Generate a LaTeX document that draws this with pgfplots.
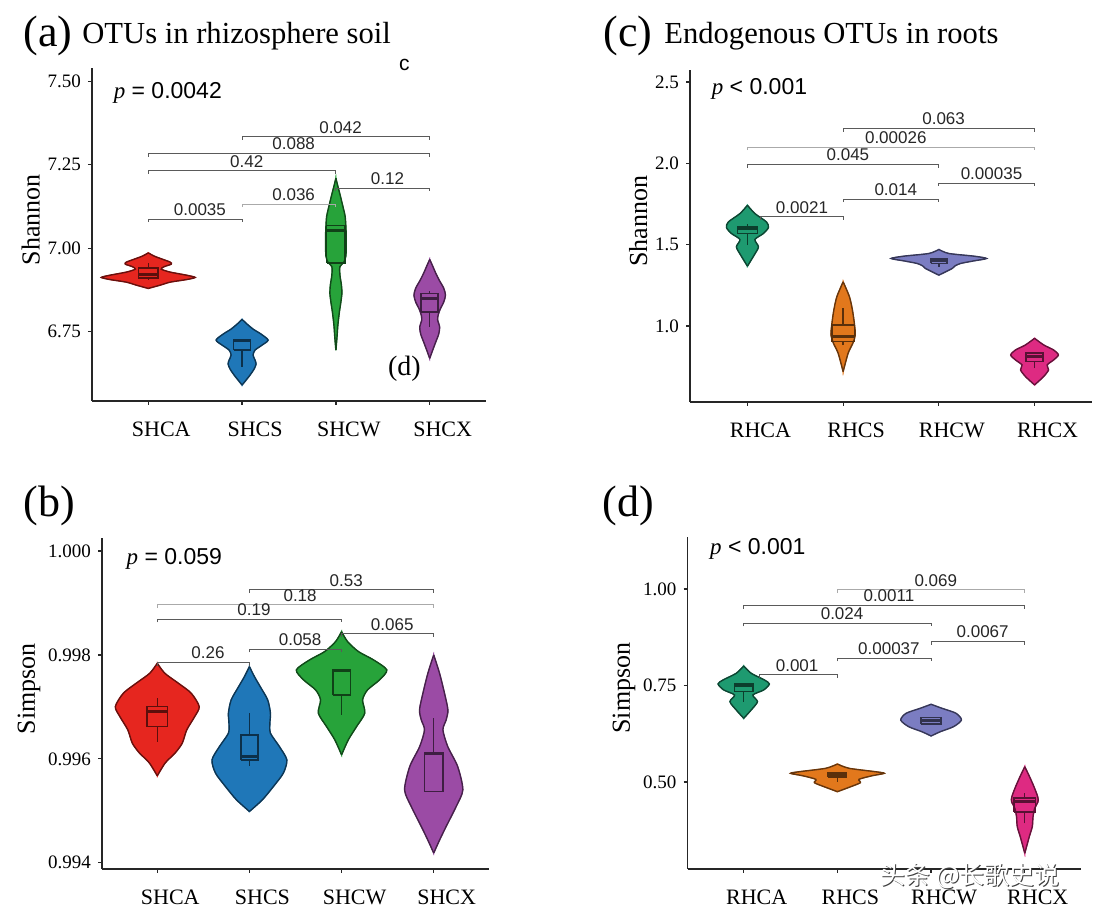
\documentclass[border=0pt]{standalone}
\usepackage{fontspec}
\setmainfont{Liberation Serif}
\setsansfont{Liberation Sans}
\newfontfamily\cjk{Noto Sans CJK SC}
\usepackage{pgfplots}
\usepackage{pgfplotstable}
\pgfplotsset{compat=1.18}

\definecolor{cRed}{HTML}{E6261F}
\definecolor{cBlue}{HTML}{1F77B8}
\definecolor{cGreen}{HTML}{27A33A}
\definecolor{cPurple}{HTML}{9B4BA5}
\definecolor{cTeal}{HTML}{1E9A70}
\definecolor{cOrange}{HTML}{E2781C}
\definecolor{cLav}{HTML}{7B7DC2}
\definecolor{cPink}{HTML}{DE2A82}
\definecolor{brk}{HTML}{5A5A5A}
\definecolor{brkl}{HTML}{AAAAAA}

% ---------- violin outlines: y, half width (x units) ----------
\pgfplotstableread{
y h
6.9859 0
6.9760 0.064
6.9670 0.149
6.9580 0.234
6.9520 0.245
6.9445 0.170
6.9370 0.138
6.9281 0.234
6.9191 0.404
6.9122 0.500
6.9056 0.404
6.8981 0.234
6.8891 0.128
6.8792 0
}\VaA
\pgfplotstableread{
y h
6.7863 0
6.7722 0.053
6.7572 0.117
6.7422 0.202
6.7242 0.277
6.7092 0.213
6.6942 0.138
6.6792 0.117
6.6643 0.138
6.6523 0.149
6.6373 0.128
6.6193 0.085
6.6043 0.043
6.5893 0
}\VaB
\pgfplotstableread{
y h
7.2098 0
7.1859 0.021
7.1559 0.048
7.1259 0.074
7.0959 0.098
7.0659 0.106
7.0360 0.110
7.0060 0.110
6.9760 0.106
6.9580 0.085
6.9445 0.043
6.9191 0.043
6.8891 0.059
6.8651 0.064
6.8381 0.053
6.8082 0.037
6.7692 0.021
6.7302 0.011
6.6942 0
}\VaC
\pgfplotstableread{
y h
6.9661 0
6.9460 0.032
6.9251 0.064
6.9041 0.101
6.8801 0.149
6.8591 0.168
6.8381 0.149
6.8172 0.112
6.7992 0.090
6.7842 0.085
6.7632 0.106
6.7422 0.096
6.7182 0.064
6.6942 0.032
6.6694 0
}\VaD
\pgfplotstableread{
y h
0.997840 0
0.997648 0.081
0.997456 0.228
0.997263 0.368
0.997006 0.455
0.996813 0.406
0.996558 0.320
0.996302 0.271
0.996115 0.195
0.995923 0.087
0.995673 0
}\VbA
\pgfplotstableread{
y h
0.997775 0
0.997583 0.054
0.997390 0.117
0.997135 0.198
0.996879 0.228
0.996687 0.222
0.996494 0.228
0.996237 0.325
0.995981 0.406
0.995725 0.368
0.995467 0.260
0.995212 0.141
0.994987 0
}\VbB
\pgfplotstableread{
y h
0.998448 0
0.998256 0.065
0.998063 0.184
0.997904 0.347
0.997711 0.491
0.997519 0.412
0.997327 0.282
0.997135 0.228
0.996879 0.252
0.996621 0.163
0.996365 0.073
0.996077 0
}\VbC
\pgfplotstableread{
y h
0.998000 0
0.997648 0.063
0.997263 0.117
0.996942 0.154
0.996750 0.135
0.996558 0.100
0.996237 0.152
0.995852 0.260
0.995404 0.316
0.995083 0.244
0.994698 0.135
0.994442 0.065
0.994187 0
}\VbD
\pgfplotstableread{
y h
1.7423 0
1.6914 0.078
1.6399 0.199
1.6055 0.219
1.5687 0.167
1.5319 0.078
1.4865 0.115
1.4356 0.070
1.3681 0
}\VcA
\pgfplotstableread{
y h
1.2718 0
1.1798 0.066
1.0982 0.097
1.0166 0.117
0.9448 0.127
0.8939 0.101
0.8325 0.052
0.7196 0
}\VcB
\pgfplotstableread{
y h
1.4706 0
1.4460 0.104
1.4295 0.366
1.4153 0.498
1.4006 0.366
1.3847 0.227
1.3700 0.170
1.3540 0.140
1.3129 0
}\VcC
\pgfplotstableread{
y h
0.9245 0
0.8834 0.096
0.8528 0.199
0.8221 0.249
0.7914 0.199
0.7607 0.131
0.7301 0.146
0.6889 0.094
0.6380 0
}\VcD
\pgfplotstableread{
y h
0.8006 0
0.7816 0.080
0.7643 0.221
0.7539 0.274
0.7384 0.213
0.7254 0.098
0.7081 0.147
0.6866 0.080
0.6650 0
}\VdA
\pgfplotstableread{
y h
0.5466 0
0.5355 0.124
0.5267 0.404
0.5225 0.500
0.5163 0.372
0.5070 0.231
0.4982 0.245
0.4878 0.142
0.4749 0
}\VdB
\pgfplotstableread{
y h
0.7013 0
0.6910 0.115
0.6780 0.266
0.6606 0.324
0.6433 0.239
0.6303 0.098
0.6192 0
}\VdC
\pgfplotstableread{
y h
0.5396 0
0.5137 0.051
0.4878 0.098
0.4619 0.138
0.4490 0.141
0.4319 0.106
0.4101 0.088
0.3842 0.080
0.3583 0.048
0.3153 0
}\VdD

% ---------- helpers ----------
\newcommand{\violin}[3]{%
 \addplot[fill=#3, draw=#3, line width=0.5pt, smooth, tension=0.45, forget plot] table[x expr={#2-\thisrow{h}}, y=y] {#1} -- cycle;
 \addplot[fill=#3, draw=#3, line width=0.5pt, smooth, tension=0.45, forget plot] table[x expr={#2+\thisrow{h}}, y=y] {#1} -- cycle;
 \addplot[draw=#3!45!black, line width=0.7pt, smooth, tension=0.45, forget plot] table[x expr={#2-\thisrow{h}}, y=y] {#1};
 \addplot[draw=#3!45!black, line width=0.7pt, smooth, tension=0.45, forget plot] table[x expr={#2+\thisrow{h}}, y=y] {#1};
}
% box: xl, xc, xr, lower whisker, q1, median, q3, upper whisker, colour
\newcommand{\bx}[9]{%
 \addplot[forget plot, draw=#9!40!black, line width=0.7pt] coordinates {(#2,#4)(#2,#5)};
 \addplot[forget plot, draw=#9!40!black, line width=0.7pt] coordinates {(#2,#7)(#2,#8)};
 \addplot[forget plot, draw=#9!40!black, line width=0.8pt] coordinates {(#1,#5)(#3,#5)(#3,#7)(#1,#7)(#1,#5)};
 \addplot[forget plot, draw=#9!40!black, line width=1.5pt] coordinates {(#1,#6)(#3,#6)};
}
\newcommand{\brk}[7]{%
 \addplot[forget plot, draw=#7, line width=0.5pt] coordinates {(#1,#3)(#1,#4)(#2,#4)(#2,#3)};
 \node[anchor=south, inner sep=1.6pt, font=\sffamily\fontsize{8.5}{8.5}\selectfont, text=black!85] at (axis cs:#5,#4) {#6};
}

\pgfplotsset{
 vio/.style={
  scale only axis, axis lines=left,
  axis line style={-, line width=0.7pt, black!85},
  tick align=outside, major tick length=2pt,
  tick style={black!85, line width=0.6pt},
  xmin=0.4, xmax=4.6, xtick={1,2,3,4},
  clip=false,
  /pgf/number format/assume math mode=true,
  yticklabel style={font=\fontsize{9.5}{9.5}\selectfont, /pgf/number format/fixed, /pgf/number format/zerofill},
  xticklabel style={font=\fontsize{11}{11}\selectfont, xshift=6.5pt, yshift=-5pt},
  ylabel style={font=\fontsize{13}{13}\selectfont, at={(ticklabel cs:0.545,-3pt)}},
  scaled y ticks=false,
 },
}

\begin{document}
\begin{tikzpicture}
\useasboundingbox (0,0) rectangle (550pt,461pt);

% ================= (a) =================
\begin{axis}[vio, at={(46pt,260.5pt)}, anchor=south west, width=197pt, height=166.5pt,
  ymin=6.5415, ymax=7.5405, ytick={6.75,7,7.25,7.5},
  yticklabel style={/pgf/number format/precision=2},
  xticklabels={SHCA,SHCS,SHCW,SHCX}, ylabel={Shannon}]
 \violin{\VaA}{1}{cRed}
 \violin{\VaB}{2}{cBlue}
 \violin{\VaC}{3}{cGreen}
 \violin{\VaD}{4}{cPurple}
 \bx{0.895}{1}{1.105}{6.905}{6.910}{6.920}{6.940}{6.955}{cRed}
 \bx{1.91}{2}{2.09}{6.644}{6.694}{6.722}{6.726}{6.726}{cBlue}
 \bx{2.9}{3}{3.1}{6.955}{6.955}{7.054}{7.068}{7.068}{cGreen}
 \bx{3.91}{4}{4.09}{6.764}{6.809}{6.849}{6.864}{6.872}{cPurple}
 \brk{2}{4}{7.3246}{7.3336}{3.05}{0.042}{brk}
 \brk{1}{4}{7.2749}{7.2839}{2.55}{0.088}{brk}
 \brk{1}{3}{7.2227}{7.2317}{2.05}{0.42}{brk}
 \brk{3}{4}{7.1700}{7.1790}{3.55}{0.12}{brk}
 \brk{2}{3}{7.1229}{7.1319}{2.55}{0.036}{brkl}
 \brk{1}{2}{7.0779}{7.0869}{1.55}{0.0035}{brk}
 \node[anchor=west, inner sep=0pt, font=\fontsize{11.5}{11.5}\selectfont] at (axis cs:0.628,7.4655) {\textit{p}\sffamily\ = 0.0042};
 \node[font=\sffamily\fontsize{10.5}{10.5}\selectfont] at (axis cs:3.73,7.5495) {c};
 \node[font=\fontsize{14}{14}\selectfont] at (axis cs:3.73,6.637) {(d)};
\end{axis}

% ================= (b) =================
\begin{axis}[vio, at={(51pt,26.5pt)}, anchor=south west, width=193.5pt, height=165.5pt,
  ymin=0.99388, ymax=1.00025, ytick={0.994,0.996,0.998,1},
  yticklabel style={/pgf/number format/precision=3},
  xticklabels={SHCA,SHCS,SHCW,SHCX}, ylabel={Simpson}]
 \violin{\VbA}{1}{cRed}
 \violin{\VbB}{2}{cBlue}
 \violin{\VbC}{3}{cGreen}
 \violin{\VbD}{4}{cPurple}
 \bx{0.89}{1}{1.11}{0.996333}{0.996621}{0.996910}{0.997006}{0.997167}{cRed}
 \bx{1.91}{2}{2.09}{0.995865}{0.995981}{0.996044}{0.996462}{0.996879}{cBlue}
 \bx{2.905}{3}{3.095}{0.996846}{0.997231}{0.997692}{0.997711}{0.997711}{cGreen}
 \bx{3.9}{4}{4.1}{0.995371}{0.995371}{0.996110}{0.996115}{0.996783}{cPurple}
 \brk{2}{4}{0.999190}{0.999250}{3.05}{0.53}{brk}
 \brk{1}{4}{0.998902}{0.998962}{2.55}{0.18}{brkl}
 \brk{1}{3}{0.998626}{0.998686}{2.05}{0.19}{brk}
 \brk{3}{4}{0.998344}{0.998404}{3.55}{0.065}{brk}
 \brk{2}{3}{0.998050}{0.998110}{2.55}{0.058}{brk}
 \brk{1}{2}{0.997792}{0.997852}{1.55}{0.26}{brk}
 \node[anchor=west, inner sep=0pt, font=\fontsize{11.5}{11.5}\selectfont] at (axis cs:0.664,0.999846) {\textit{p}\sffamily\ = 0.059};
\end{axis}

% ================= (c) =================
\begin{axis}[vio, at={(345pt,260pt)}, anchor=south west, width=201pt, height=166pt,
  ymin=0.533, ymax=2.574, ytick={1,1.5,2,2.5},
  yticklabel style={/pgf/number format/precision=1},
  xticklabels={RHCA,RHCS,RHCW,RHCX}, ylabel={Shannon}]
 \violin{\VcA}{1}{cTeal}
 \violin{\VcB}{2}{cOrange}
 \violin{\VcC}{3}{cLav}
 \violin{\VcD}{4}{cPink}
 \bx{0.895}{1}{1.105}{1.497}{1.569}{1.599}{1.609}{1.630}{cTeal}
 \bx{1.882}{2}{2.118}{0.883}{0.904}{0.934}{1.006}{1.109}{cOrange}
 \bx{2.915}{3}{3.085}{1.364}{1.385}{1.400}{1.415}{1.415}{cLav}
 \bx{3.91}{4}{4.09}{0.7405}{0.781}{0.8117}{0.8325}{0.8325}{cPink}
 \brk{2}{4}{2.1949}{2.2129}{3.05}{0.063}{brk}
 \brk{1}{4}{2.0820}{2.1000}{2.55}{0.00026}{brkl}
 \brk{1}{3}{1.9740}{1.9920}{2.05}{0.045}{brk}
 \brk{3}{4}{1.8612}{1.8792}{3.55}{0.00035}{brk}
 \brk{2}{3}{1.7611}{1.7791}{2.55}{0.014}{brk}
 \brk{1.14}{2}{1.6526}{1.6706}{1.57}{0.0021}{brk}
 \node[anchor=west, inner sep=0pt, font=\fontsize{11.5}{11.5}\selectfont] at (axis cs:0.624,2.460) {\textit{p}\sffamily\ < 0.001};
\end{axis}

% ================= (d) =================
\begin{axis}[vio, at={(343.75pt,26.5pt)}, anchor=south west, width=196.75pt, height=166pt,
  ymin=0.2746, ymax=1.1347, ytick={0.5,0.75,1},
  yticklabel style={/pgf/number format/precision=2},
  xticklabels={RHCA,RHCS,RHCW,RHCX}, ylabel={Simpson}]
 \violin{\VdA}{1}{cTeal}
 \violin{\VdB}{2}{cOrange}
 \violin{\VdC}{3}{cLav}
 \violin{\VdD}{4}{cPink}
 \bx{0.902}{1}{1.098}{0.708}{0.734}{0.750}{0.7539}{0.7539}{cTeal}
 \bx{1.902}{2}{2.098}{0.501}{0.512}{0.518}{0.524}{0.524}{cOrange}
 \bx{2.894}{3}{3.106}{0.6503}{0.6503}{0.659}{0.6676}{0.6676}{cLav}
 \bx{3.885}{4}{4.115}{0.393}{0.423}{0.449}{0.4578}{0.471}{cPink}
 \brk{2}{4}{0.9895}{0.9975}{3.05}{0.069}{brkl}
 \brk{1}{4}{0.9488}{0.9568}{2.55}{0.0011}{brk}
 \brk{1}{3}{0.9032}{0.9112}{2.05}{0.024}{brk}
 \brk{3}{4}{0.8555}{0.8635}{3.55}{0.0067}{brk}
 \brk{2}{3}{0.8125}{0.8205}{2.55}{0.00037}{brk}
 \brk{1.17}{2}{0.7692}{0.7772}{1.57}{0.001}{brk}
 \node[anchor=west, inner sep=0pt, font=\fontsize{11.5}{11.5}\selectfont] at (axis cs:0.638,1.1029) {\textit{p}\sffamily\ < 0.001};
\end{axis}

% ================= titles =================
\node[anchor=base west, inner sep=0pt, font=\fontsize{22}{22}\selectfont] at (11.5pt,437.5pt) {(a)};
\node[anchor=base west, inner sep=0pt, font=\fontsize{15.3}{15.3}\selectfont] at (41pt,439pt) {OTUs in rhizosphere soil};
\node[anchor=base west, inner sep=0pt, font=\fontsize{22}{22}\selectfont] at (301.5pt,437.5pt) {(c)};
\node[anchor=base west, inner sep=0pt, font=\fontsize{15.3}{15.3}\selectfont] at (332pt,439pt) {Endogenous OTUs in roots};
\node[anchor=base west, inner sep=0pt, font=\fontsize{22}{22}\selectfont] at (11.5pt,202.5pt) {(b)};
\node[anchor=base west, inner sep=0pt, font=\fontsize{22}{22}\selectfont] at (301pt,202.5pt) {(d)};

% watermark
\node[anchor=base west, inner sep=0pt, text=black!75, font=\cjk\fontsize{12.5}{12.5}\selectfont] at (440.6pt,18.1pt) {头条 @长歌史说};
\node[anchor=base west, inner sep=0pt, text=white, font=\cjk\fontsize{12.5}{12.5}\selectfont] at (440pt,18.5pt) {头条 @长歌史说};
\end{tikzpicture}
\end{document}
